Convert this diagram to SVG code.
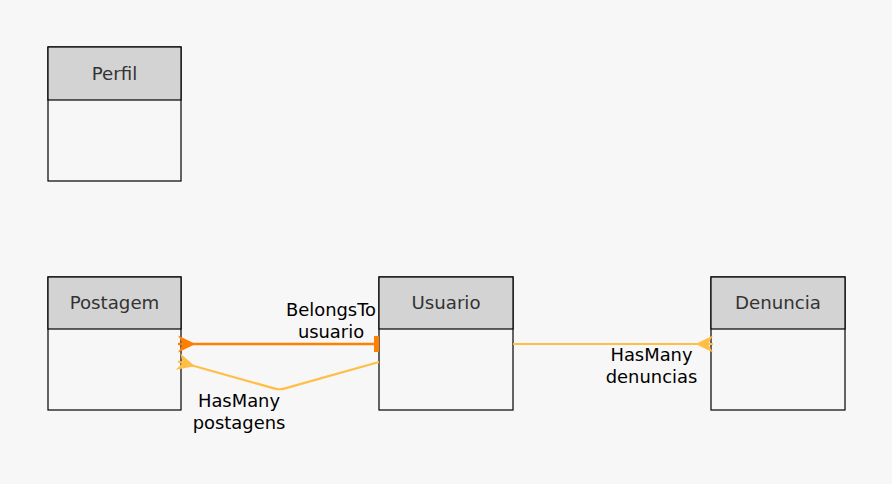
<svg xmlns="http://www.w3.org/2000/svg" width="892" height="484" viewBox="0 0 892 484">
<style>
.body{fill:#f7f7f7;stroke:#000;stroke-width:1.2}
.head{fill:#d3d3d3;stroke:#000;stroke-width:1.2}
.title{font-family:"DejaVu Sans",sans-serif;font-size:18.2px;fill:#333;text-anchor:middle}
.lbl{font-family:"DejaVu Sans",sans-serif;font-size:17.9px;fill:#000;text-anchor:middle}
.orange{fill:none;stroke:#ff8000;stroke-width:2.6}
.yellow{fill:none;stroke:#ffbf47;stroke-width:2.2}
</style>
<defs>
<marker id="arrO" markerUnits="userSpaceOnUse" orient="auto" refX="0" refY="0" markerWidth="40" markerHeight="40" viewBox="-20 -20 40 40" overflow="visible">
<path d="M0,-8.5 L17.5,0 L0,8.5 L5,0 Z" fill="#ff8000"/>
</marker>
<marker id="arrY" markerUnits="userSpaceOnUse" orient="auto" refX="0" refY="0" markerWidth="40" markerHeight="40" viewBox="-20 -20 40 40" overflow="visible">
<path d="M0,-8.5 L17.5,0 L0,8.5 L5,0 Z" fill="#ffbf47"/>
</marker>
<marker id="barO" markerUnits="userSpaceOnUse" orient="auto" refX="0" refY="0" markerWidth="40" markerHeight="40" viewBox="-20 -20 40 40" overflow="visible">
<rect x="-5" y="-8" width="5" height="16" fill="#ff8000"/>
</marker>
</defs>
<rect width="892" height="484" fill="#f7f7f7"/>
<g id="node-perfil">
<rect class="body" x="48" y="47" width="133" height="134"/>
<rect class="head" x="48" y="47" width="133" height="53"/>
<text class="title" x="114.5" y="80">Perfil</text>
</g>
<g id="node-postagem">
<rect class="body" x="48" y="277" width="133" height="133"/>
<rect class="head" x="48" y="277" width="133" height="52"/>
<text class="title" x="114.5" y="309">Postagem</text>
</g>
<g id="node-usuario">
<rect class="body" x="379" y="277" width="134" height="133"/>
<rect class="head" x="379" y="277" width="134" height="52"/>
<text class="title" x="446" y="309">Usuario</text>
</g>
<g id="node-denuncia">
<rect class="body" x="711" y="277" width="134" height="133"/>
<rect class="head" x="711" y="277" width="134" height="52"/>
<text class="title" x="778" y="309">Denuncia</text>
</g>
<g id="connectors">
<path class="orange" d="M178,344 L379,344" marker-start="url(#arrO)" marker-end="url(#barO)"/>
<path class="yellow" d="M178,361.5 L275,388.6 Q280,390 285,388.4 L379,362" marker-start="url(#arrY)"/>
<path class="yellow" d="M713,344 L513,344" marker-start="url(#arrY)"/>
<text class="lbl" x="331" y="316">BelongsTo</text>
<text class="lbl" x="331" y="338">usuario</text>
<text class="lbl" x="239" y="407">HasMany</text>
<text class="lbl" x="239" y="429">postagens</text>
<text class="lbl" x="651.5" y="361">HasMany</text>
<text class="lbl" x="651.5" y="383">denuncias</text>
</g>
</svg>
